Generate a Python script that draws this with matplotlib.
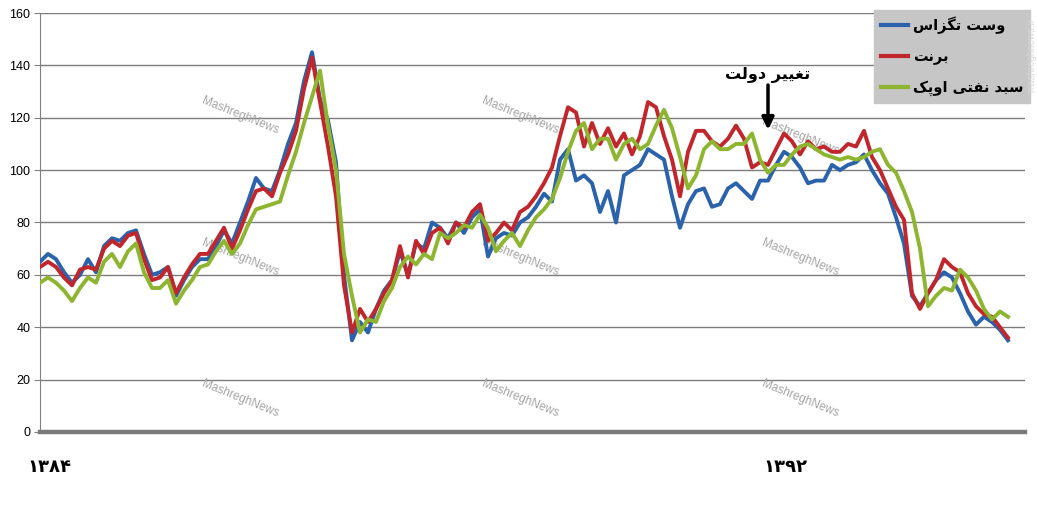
import matplotlib
matplotlib.use('Agg')
import matplotlib.pyplot as plt
import numpy as np

wti = [65, 68, 66, 61, 57, 60, 66, 61, 71, 74,
       73, 76, 77, 68, 60, 61, 63, 52, 58, 63,
       66, 66, 71, 77, 72, 80, 88, 97, 93, 92,
       100, 110, 118, 134, 145, 127, 119, 103, 60, 35,
       42, 38, 47, 54, 58, 69, 60, 72, 70, 80,
       78, 74, 80, 76, 82, 85, 67, 74, 76, 75,
       80, 82, 86, 91, 88, 104, 108, 96, 98, 95,
       84, 92, 80, 98, 100, 102, 108, 106, 104, 90,
       78, 87, 92, 93, 86, 87, 93, 95, 92, 89,
       96, 96, 102, 107, 105, 101, 95, 96, 96, 102,
       100, 102, 103, 106, 100, 95, 91, 82, 72, 52,
       48, 53, 58, 61, 59, 53, 46, 41, 44, 42,
       39, 35]
brent = [63, 65, 63, 59, 56, 62, 63, 62, 70, 73,
         71, 75, 76, 66, 58, 59, 63, 53, 59, 64,
         68, 68, 73, 78, 70, 77, 85, 92, 93, 90,
         99, 106, 115, 131, 143, 126, 109, 90, 56, 38,
         47, 42, 47, 53, 58, 71, 59, 73, 68, 76,
         78, 72, 80, 78, 84, 87, 73, 76, 80, 77,
         84, 86, 90, 95, 101, 113, 124, 122, 109, 118,
         110, 116, 109, 114, 106, 113, 126, 124, 113, 104,
         90, 107, 115, 115, 111, 109, 112, 117, 112, 101,
         103, 102, 108, 114, 111, 106, 111, 108, 109, 107,
         107, 110, 109, 115, 105, 100, 93, 86, 81, 53,
         47, 53, 58, 66, 63, 61, 53, 48, 45, 44,
         40, 36]
opec = [57, 59, 57, 54, 50, 55, 59, 57, 65, 68,
        63, 69, 72, 61, 55, 55, 58, 49, 54, 58,
        63, 64, 69, 73, 68, 72, 79, 85, 86, 87,
        88, 98, 107, 118, 128, 138, 117, 100, 68, 52,
        38, 43, 42, 50, 55, 63, 67, 64, 68, 66,
        76, 74, 76, 79, 78, 83, 78, 69, 73, 76,
        71, 77, 82, 85, 89, 97, 107, 115, 118, 108,
        112, 112, 104, 110, 112, 108, 110, 117, 123, 116,
        105, 93, 98, 108, 111, 108, 108, 110, 110, 114,
        104, 99, 102, 102, 106, 109, 110, 108, 106, 105,
        104, 105, 104, 105, 107, 108, 102, 99, 92, 84,
        70, 48, 52, 55, 54, 62, 59, 54, 47, 43,
        46, 44]

series_names = ['وست تگزاس', 'برنت', 'سبد نفتی اوپک']
year_labels = ['۱۳۸۴', '۱۳۹۲']
year_pos = [0, 92]
note_text = 'تغییر دولت'
note_pos = 91

# matplotlib has no arabic shaping, so pick the presentation forms by hand
FORMS = {
    'ا': (0xFE8D, 0xFE8E, None, None),
    'ب': (0xFE8F, 0xFE90, 0xFE91, 0xFE92),
    'ت': (0xFE95, 0xFE96, 0xFE97, 0xFE98),
    'د': (0xFEA9, 0xFEAA, None, None),
    'ر': (0xFEAD, 0xFEAE, None, None),
    'ز': (0xFEAF, 0xFEB0, None, None),
    'س': (0xFEB1, 0xFEB2, 0xFEB3, 0xFEB4),
    'غ': (0xFECD, 0xFECE, 0xFECF, 0xFED0),
    'ف': (0xFED1, 0xFED2, 0xFED3, 0xFED4),
    'ل': (0xFEDD, 0xFEDE, 0xFEDF, 0xFEE0),
    'ن': (0xFEE5, 0xFEE6, 0xFEE7, 0xFEE8),
    'و': (0xFEED, 0xFEEE, None, None),
    'پ': (0xFB56, 0xFB57, 0xFB58, 0xFB59),
    'ک': (0xFB8E, 0xFB8F, 0xFB90, 0xFB91),
    'گ': (0xFB92, 0xFB93, 0xFB94, 0xFB95),
    'ی': (0xFBFC, 0xFBFD, 0xFBFE, 0xFBFF),
}


def shape(text):
    out = []
    for i, ch in enumerate(text):
        if ch not in FORMS:
            out.append(ch)
            continue
        f = FORMS[ch]
        prev = text[i - 1] if i > 0 else ''
        nxt = text[i + 1] if i + 1 < len(text) else ''
        join_prev = prev in FORMS and FORMS[prev][2] is not None
        join_next = f[2] is not None and nxt in FORMS
        if join_prev and join_next:
            c = f[3]
        elif join_prev:
            c = f[1]
        elif join_next:
            c = f[2]
        else:
            c = f[0]
        out.append(chr(c))
    return ''.join(reversed(out))


W, H = 1037, 526
fig = plt.figure(figsize=(W / 100, H / 100), dpi=100)
ax = fig.add_axes([40 / W, (H - 432) / H, 985 / W, 419 / H])

x = np.arange(len(brent))
colors = ['#2a62ab', '#c1262c', '#8db52f']
for vals, c, name in zip([wti, brent, opec], colors, series_names):
    ax.plot(x, vals, color=c, lw=2.8, label=shape(name), zorder=3)

ax.set_xlim(0, 985 / 8)
ax.set_ylim(0, 160)
ax.set_yticks(range(0, 161, 20))
ax.set_xticks([])
ax.tick_params(axis='y', length=4, color='#808080', labelsize=9, pad=3)
for lab in ax.get_yticklabels():
    lab.set_fontfamily('Liberation Sans')
ax.grid(axis='y', color='#7c7c7c', lw=1)
ax.set_axisbelow(True)
for s in ['top', 'right']:
    ax.spines[s].set_visible(False)
ax.spines['left'].set_color('#808080')
ax.spines['bottom'].set_color('#7a7a7a')
ax.spines['bottom'].set_linewidth(3.2)

leg = ax.legend(loc='upper right', bbox_to_anchor=(1.005, 1.008), borderaxespad=0,
                prop={'family': 'DejaVu Sans', 'weight': 'bold', 'size': 10.5},
                frameon=True, fancybox=False, framealpha=1, facecolor='#c6c6c6',
                edgecolor='#c6c6c6', handlelength=1.9, handletextpad=0.3,
                labelspacing=1.05, borderpad=0.45)
for ln in leg.get_lines():
    ln.set_linewidth(3)
leg.set_zorder(5)

# annotation for the change of government
ax.text(note_pos, 136.5, shape(note_text), ha='center', va='center',
        fontsize=11.5, fontweight='bold', family='DejaVu Sans', zorder=6)
ax.annotate('', xy=(note_pos, 115.5), xytext=(note_pos, 132.5),
            arrowprops=dict(arrowstyle='-|>', color='black', lw=2.5,
                            mutation_scale=18, shrinkA=0, shrinkB=0), zorder=6)

for yl, xp in zip(year_labels, year_pos):
    px = 40 + xp * 8 + 9
    fig.text(px / W, 1 - 467 / H, yl, ha='center', va='center',
             fontsize=13, fontweight='bold', family='DejaVu Sans')

# watermarks
for wx in [240, 520, 800]:
    for wy in [116, 258, 399]:
        if wx == 800 and wy == 116:
            wy = 137
        ax.text(wx / W, 1 - wy / H, 'MashreghNews', transform=fig.transFigure,
                ha='center', va='center', rotation=-22, fontsize=8.5,
                color='#a5a5a5', family='Liberation Sans', zorder=1)
fig.text(1031 / W, 1 - 55 / H, 'mashreghnews.ir', rotation=90, ha='center',
         va='center', fontsize=7, color='#d8d8d8', family='Liberation Sans')

fig.savefig('out.png', dpi=100)
